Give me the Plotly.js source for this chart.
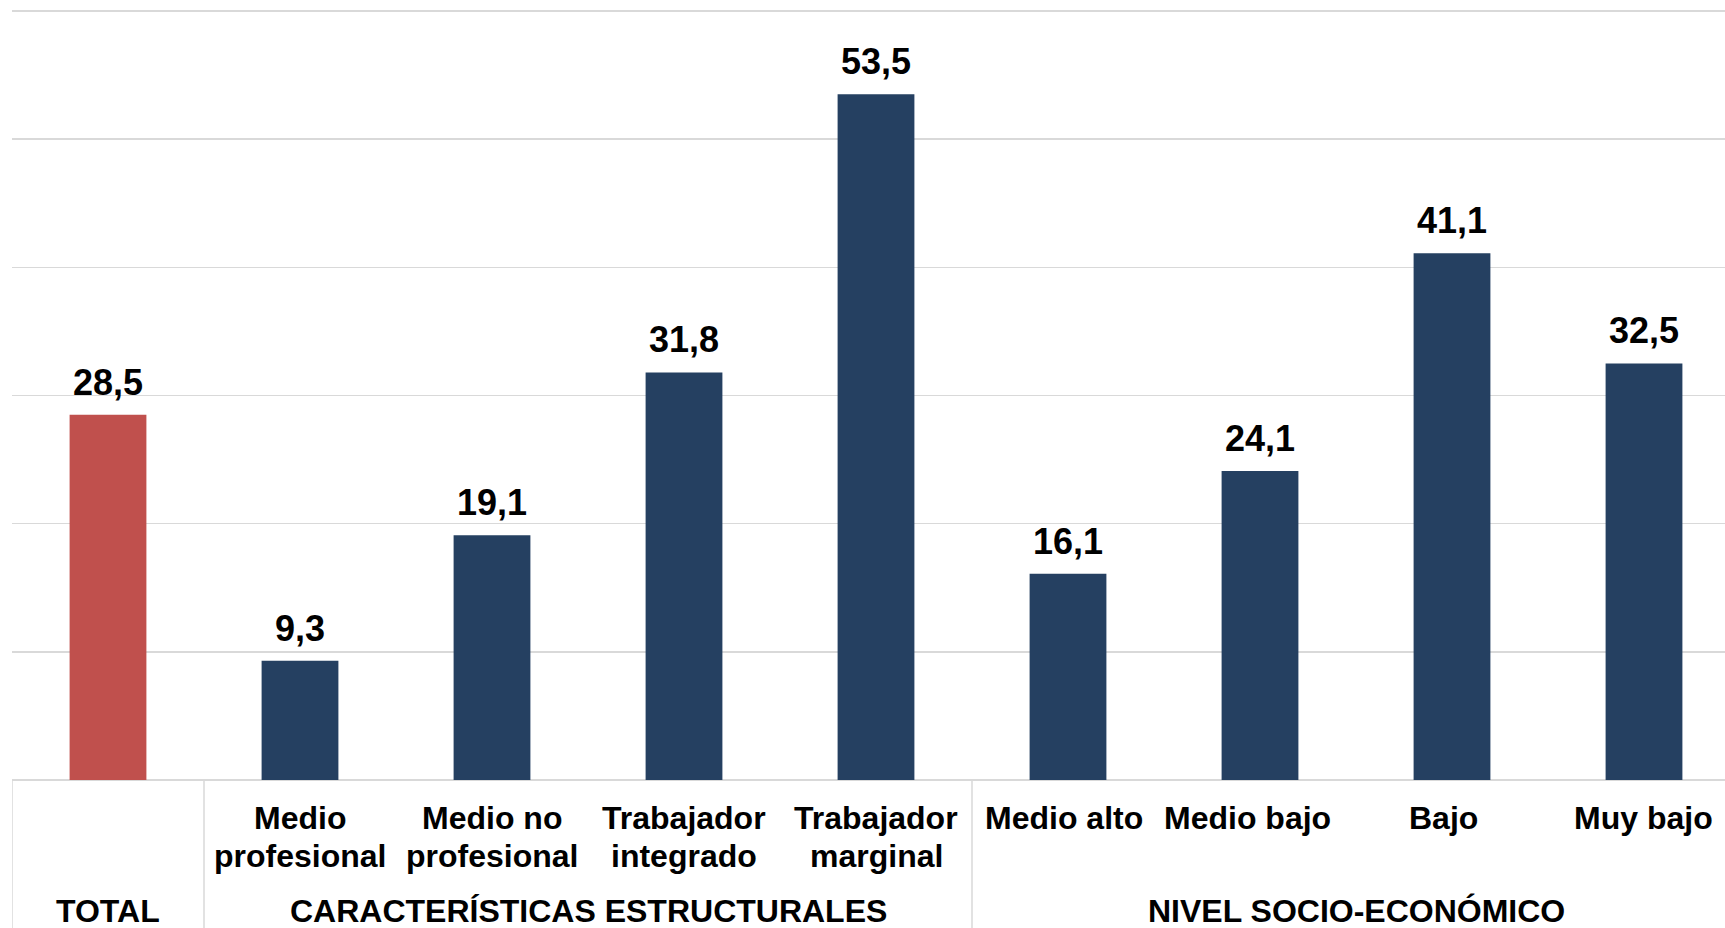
<!DOCTYPE html>
<html>
<head>
<meta charset="utf-8">
<script src="https://cdn.plot.ly/plotly-3.0.1.min.js"></script>
<style>
html,body{margin:0;padding:0;background:#fff;}
#chart{width:1725px;height:928px;}
</style>
</head>
<body>
<div id="chart"></div>
<script>
// ---- data ----
const categories = ["TOTAL", "Medio<br>profesional", "Medio no<br>profesional", "Trabajador<br>integrado", "Trabajador<br>marginal", "Medio alto", "Medio bajo", "Bajo", "Muy bajo"];
const tickLabels = ["", "Medio<br>profesional", "Medio no<br>profesional", "Trabajador<br>integrado", "Trabajador<br>marginal", "Medio alto", "Medio bajo", "Bajo", "Muy bajo"];
const values = [28.5, 9.3, 19.1, 31.8, 53.5, 16.1, 24.1, 41.1, 32.5];
const groupNames = ["TOTAL", "CARACTERÍSTICAS ESTRUCTURALES", "NIVEL SOCIO-ECONÓMICO"];
const groupStart = [0, 1, 5];
const groupEnd = [0, 4, 8];

// ---- style ----
const RED = "#C0504D", NAVY = "#254061", GRID = "#d9d9d9";
const labelNudge = [0, 0, 0, 0, 0, -4, -13, -9, -1]; // px, label alignment tweak
const barColors = categories.map((c, i) => i === 0 ? RED : NAVY);
const xIdx = categories.map((c, i) => i);

const fontFam = "Liberation Sans, Arial, sans-serif";

const plotTop = 7, plotBottom = 780;
const plotH = plotBottom - plotTop;
const pxPerUnit = 769 / 60;
const paperY = p => (plotBottom - p) / plotH;

const annotations = [];
// value labels
values.forEach((v, i) => {
  annotations.push({
    x: i, y: v, xref: "x", yref: "y",
    text: v.toFixed(1).replace(".", ","),
    showarrow: false, yanchor: "bottom", yshift: 10,
    font: {family: fontFam, size: 36, color: "#000", weight: "bold"}
  });
});
// category labels (line by line)
tickLabels.forEach((lab, i) => {
  if (!lab) return;
  lab.split("<br>").forEach((ln, k) => {
    annotations.push({
      x: i, y: paperY(818 + k * 37.5), xref: "x", yref: "paper",
      text: "<b>" + ln + "</b>", showarrow: false, yanchor: "middle", xanchor: "center",
      xshift: labelNudge[i],
      font: {family: fontFam, size: 32, color: "#000"}
    });
  });
});
// group labels
groupNames.forEach((g, j) => {
  annotations.push({
    x: (groupStart[j] + groupEnd[j]) / 2, y: paperY(911), xref: "x", yref: "paper",
    text: "<b>" + g + "</b>", showarrow: false, yanchor: "middle", xanchor: "center",
    font: {family: fontFam, size: 32, color: "#000"}
  });
});

// separator lines below axis
const seps = [-0.5].concat(groupEnd.map(e => e + 0.5));
const shapes = seps.map(s => ({
  type: "line", xref: "x", yref: "paper",
  x0: s, x1: s, y0: 0, y1: paperY(940),
  line: {color: GRID, width: 1.5}, layer: "above"
}));

const trace = {
  type: "bar",
  x: xIdx, y: values,
  marker: {color: barColors, line: {width: 0}},
  width: 0.4,
  hoverinfo: "skip"
};

const plotW = 1725 - 12;
const layout = {
  width: 1725, height: 928,
  margin: {l: 12, r: 0, t: plotTop, b: 928 - plotBottom, pad: 0},
  paper_bgcolor: "#fff", plot_bgcolor: "#fff",
  showlegend: false,
  xaxis: {
    type: "linear",
    range: [-0.5, -0.5 + plotW / 192],
    showticklabels: false, showgrid: false, zeroline: false,
    showline: false, ticks: "", fixedrange: true
  },
  yaxis: {
    range: [0, plotH / pxPerUnit], dtick: 10, tick0: 0,
    showticklabels: false, showgrid: true, gridcolor: GRID, gridwidth: 1.5,
    zeroline: true, zerolinecolor: GRID, zerolinewidth: 1.5,
    showline: false, ticks: "", fixedrange: true
  },
  annotations: annotations,
  shapes: shapes
};

Plotly.newPlot("chart", [trace], layout, {displayModeBar: false, staticPlot: true});
</script>
</body>
</html>
